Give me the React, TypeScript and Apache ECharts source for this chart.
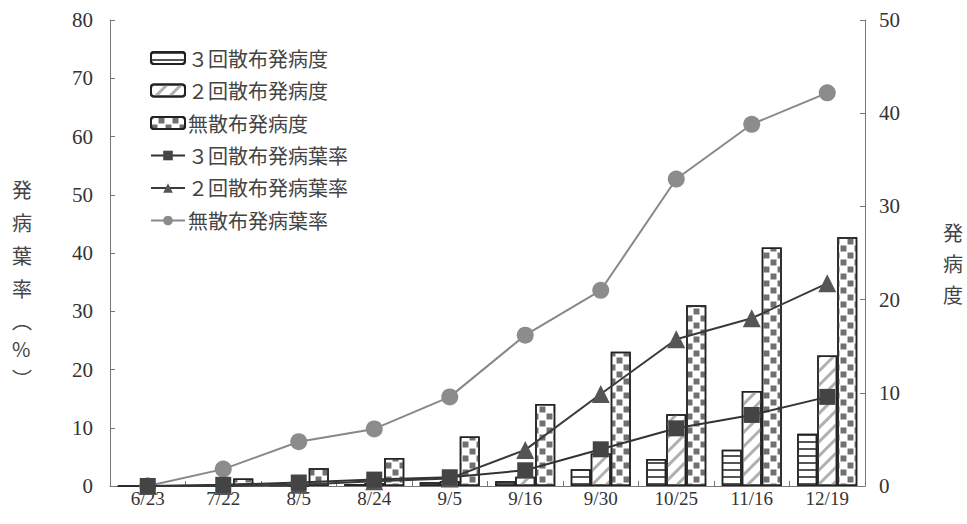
import React, { useEffect, useRef } from "react";
import * as echarts from "echarts";

const categories = ["6/23", "7/22", "8/5", "8/24", "9/5", "9/16", "9/30", "10/25", "11/16", "12/19"];
const leftTicks = [0, 80, 10];
const rightTicks = [0, 50, 10];

// 発病度 (right axis)
const sev3 = [0, 0, 0.1, 0.2, 0.4, 0.5, 1.8, 2.9, 3.9, 5.6];
const sev2 = [0, 0, 0, 0.3, 0.5, 1.0, 3.5, 7.7, 10.2, 14.0];
const sev0 = [0, 0.8, 1.9, 3.0, 5.3, 8.8, 14.4, 19.4, 25.6, 26.7];

// 発病葉率 (left axis, %)
const rate3 = [0, 0.2, 0.6, 1.1, 1.5, 2.7, 6.3, 9.9, 12.2, 15.3];
const rate2 = [0, 0, 0.2, 0.8, 1.3, 6.2, 15.8, 25.2, 28.8, 34.8];
const rate0 = [0, 2.9, 7.6, 9.8, 15.3, 25.9, 33.6, 52.7, 62.1, 67.5];

const names = [
  "３回散布発病度",
  "２回散布発病度",
  "無散布発病度",
  "３回散布発病葉率",
  "２回散布発病葉率",
  "無散布発病葉率",
];

const leftTitle = ["発", "病", "葉", "率", "︵", "%", "︶"];
const rightTitle = ["発", "病", "度"];

const SERIF = '"Liberation Serif", "DejaVu Serif", "Noto Sans CJK JP", serif';
const CJK = '"Noto Sans CJK JP", "Liberation Serif", sans-serif';

export default function App() {
  const ref = useRef<HTMLDivElement>(null);
  useEffect(() => {
    document.body.style.margin = "0";
    if (!ref.current) return;
    const chart = echarts.init(ref.current, null, { renderer: "svg" });
    const axisLine = { show: true, lineStyle: { color: "#777", width: 1 } };
    const barBase = {
      type: "bar",
      yAxisIndex: 1,
      barWidth: 20,
      barGap: "0%",
    };
    const leftTops = [179, 212, 245, 278, 310, 338, 368];
    const graphics: any[] = [];
    leftTitle.forEach((c, i) => {
      graphics.push({
        type: "text",
        left: 12,
        top: leftTops[i],
        style: { text: c, font: `20px ${CJK}`, fill: "#444" },
      });
    });
    rightTitle.forEach((c, i) => {
      graphics.push({
        type: "text",
        left: 943,
        top: 222 + i * 31,
        style: { text: c, font: `20px ${CJK}`, fill: "#444" },
      });
    });
    chart.setOption({
      animation: false,
      backgroundColor: "#fff",
      grid: { left: 110, right: 102, top: 20, bottom: 38, containLabel: false },
      legend: {
        orient: "vertical",
        left: 145,
        top: 43,
        itemWidth: 34,
        itemHeight: 12,
        itemGap: 12.5,
        textStyle: { fontFamily: CJK, fontSize: 20, color: "#444", padding: [0, 0, 0, -2] },
        data: names,
      },
      xAxis: {
        type: "category",
        data: categories,
        axisLine: axisLine,
        axisTick: { show: true, inside: true, length: 5, lineStyle: { color: "#777" } },
        axisLabel: { fontFamily: SERIF, fontSize: 19, color: "#333", margin: 3 },
      },
      yAxis: [
        {
          type: "value",
          min: leftTicks[0],
          max: leftTicks[1],
          interval: leftTicks[2],
          splitLine: { show: false },
          axisLine: axisLine,
          axisTick: { show: true, inside: true, length: 5, lineStyle: { color: "#777" } },
          axisLabel: { fontFamily: SERIF, fontSize: 21, color: "#333", margin: 17 },
        },
        {
          type: "value",
          min: rightTicks[0],
          max: rightTicks[1],
          interval: rightTicks[2],
          position: "right",
          splitLine: { show: false },
          axisLine: axisLine,
          axisTick: { show: true, inside: true, length: 5, lineStyle: { color: "#777" } },
          axisLabel: { fontFamily: SERIF, fontSize: 21, color: "#333", margin: 14 },
        },
      ],
      graphic: graphics,
      series: [
        {
          ...barBase,
          name: names[0],
          data: sev3,
          itemStyle: {
            color: "#fff",
            borderColor: "#222",
            borderWidth: 1.5,
            decal: {
              symbol: "rect",
              symbolSize: 1,
              dashArrayX: [1, 0],
              dashArrayY: [1.5, 5],
              color: "#555",
              rotation: 0,
            },
          },
        },
        {
          ...barBase,
          name: names[1],
          data: sev2,
          itemStyle: {
            color: "#fff",
            borderColor: "#222",
            borderWidth: 1.5,
            decal: {
              symbol: "rect",
              symbolSize: 1,
              dashArrayX: [1, 0],
              dashArrayY: [3, 7],
              color: "#b0b0b0",
              rotation: -Math.PI / 4,
            },
          },
        },
        {
          ...barBase,
          name: names[2],
          data: sev0,
          itemStyle: {
            color: "#fff",
            borderColor: "#222",
            borderWidth: 1.5,
            decal: {
              symbol: "rect",
              symbolSize: 0.85,
              dashArrayX: [[7, 7], [0, 7, 7, 0]],
              dashArrayY: [7, 0],
              color: "#707070",
              rotation: 0,
            },
          },
        },
        {
          type: "line",
          name: names[3],
          yAxisIndex: 0,
          data: rate3,
          symbol: "rect",
          symbolSize: 16,
          lineStyle: { color: "#333", width: 2 },
          itemStyle: { color: "#444" },
          z: 5,
        },
        {
          type: "line",
          name: names[4],
          yAxisIndex: 0,
          data: rate2,
          symbol: "triangle",
          symbolSize: 18,
          lineStyle: { color: "#3a3a3a", width: 2 },
          itemStyle: { color: "#555" },
          z: 4,
        },
        {
          type: "line",
          name: names[5],
          yAxisIndex: 0,
          data: rate0,
          symbol: "circle",
          symbolSize: 17,
          lineStyle: { color: "#888", width: 2 },
          itemStyle: { color: "#8c8c8c" },
          z: 3,
        },
      ],
    });
    return () => chart.dispose();
  }, []);
  return <div ref={ref} style={{ width: 967, height: 524 }} />;
}
